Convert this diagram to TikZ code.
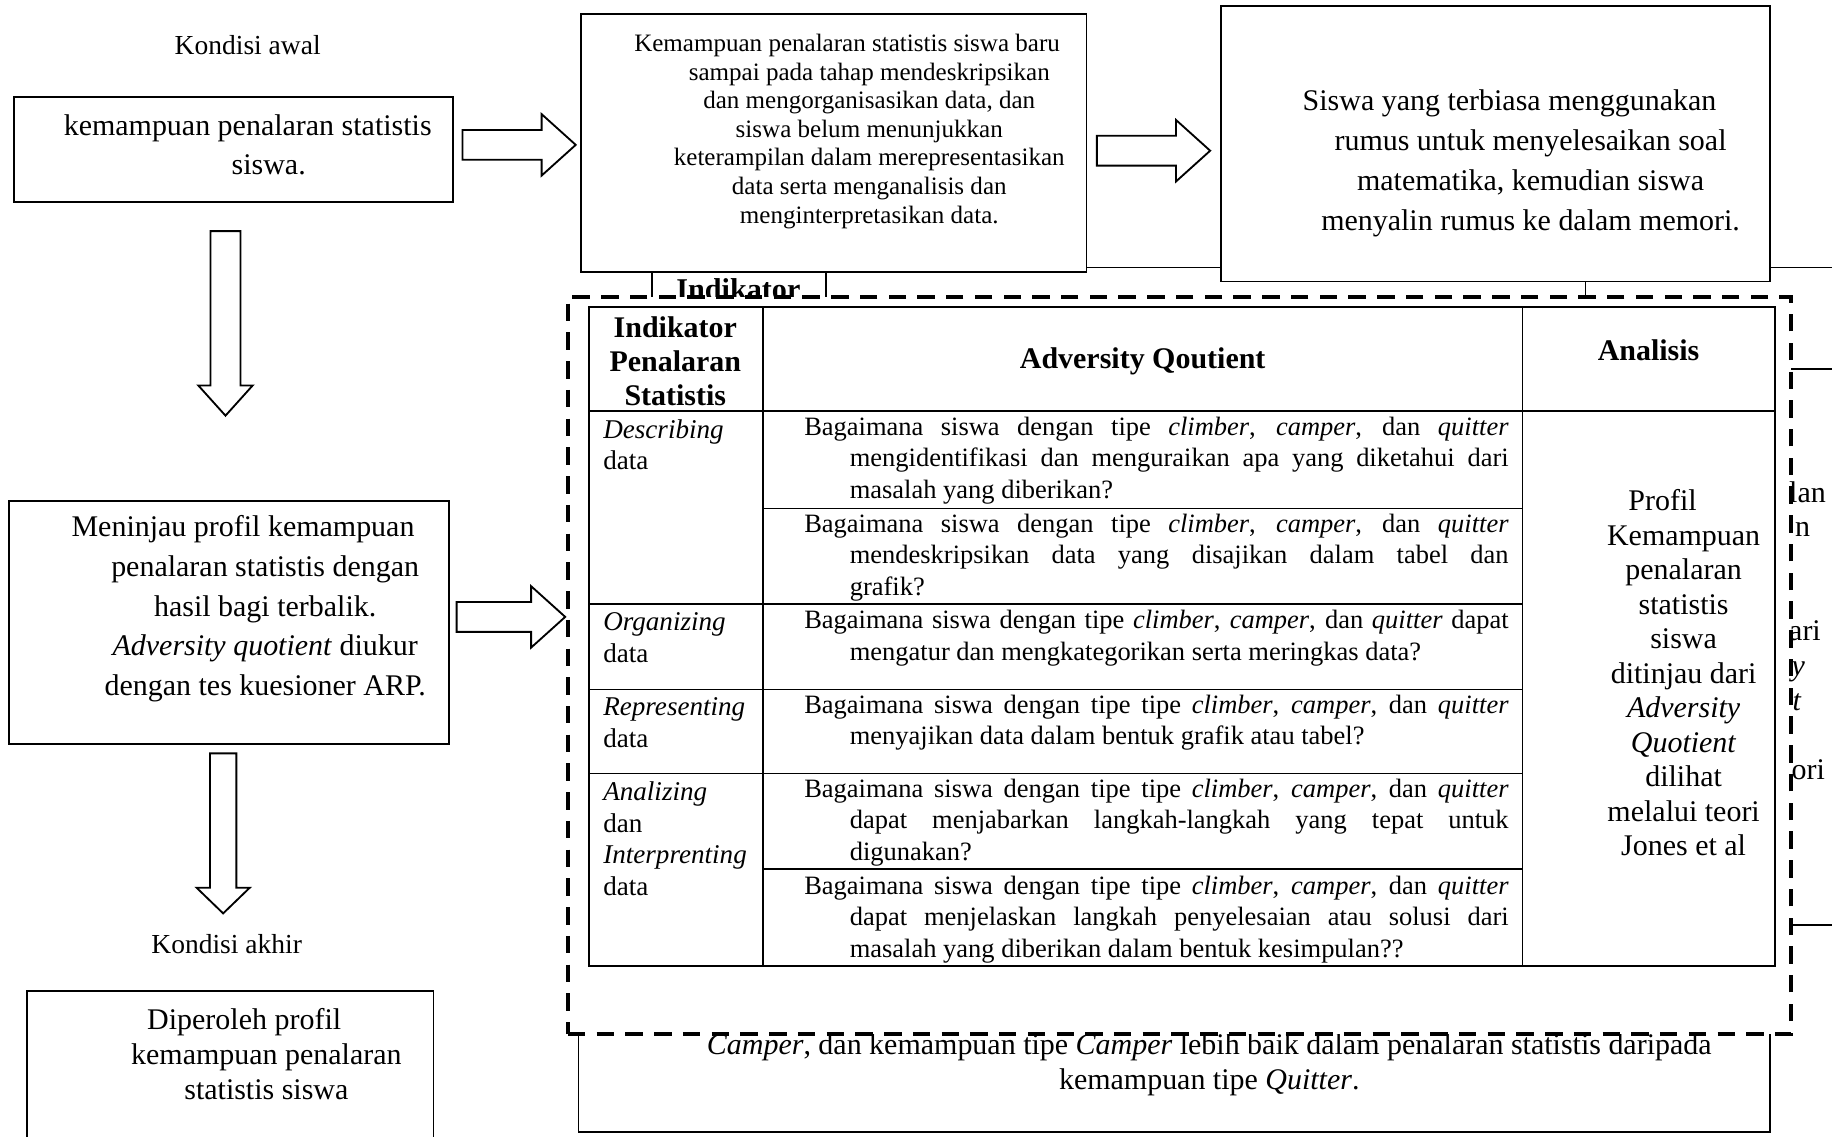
\documentclass[tikz,border=0pt]{standalone}
\usepackage{fontspec}
\setmainfont{Liberation Serif}
\usetikzlibrary{shapes.arrows}
\newcommand\qfont{\fontsize{12.9}{15.4}\selectfont\tolerance=10000\relax}
\newcommand\qhang{\hangindent=0.78cm\hangafter=1\relax}
\tikzset{
  ln/.style    = {line width=0.9pt},
  box/.style   = {draw, line width=0.9pt, inner sep=0pt},
  boxw/.style  = {box, fill=white},
  tx/.style    = {align=center, inner sep=0pt, font=\fontsize{14.6}{19.3}\selectfont},
  lbl/.style   = {inner sep=0pt, font=\fontsize{13.4}{16}\selectfont},
  barr/.style  = {single arrow, draw, line width=0.9pt, anchor=tail, inner xsep=0pt,
                  inner ysep=0.24cm, minimum width=0pt, single arrow head extend=0.27cm,
                  single arrow tip angle=84},
  grp/.style   = {draw, fill=white, line width=2pt, dash pattern=on 8.5pt off 5.5pt,
                  inner sep=0pt},
  tln/.style   = {line width=0.6pt},
  tlnb/.style  = {line width=1.1pt},
  hd/.style    = {align=center, inner sep=0pt, font=\fontsize{14.6}{16.5}\selectfont\bfseries},
  ind/.style   = {anchor=west, align=left, inner sep=0pt, font=\fontsize{13.2}{15.4}\selectfont},
  qs/.style    = {anchor=west, text width=12.06cm, align=justify, inner sep=0pt, font=\qfont},
  frag/.style  = {anchor=base west, inner sep=0pt, font=\fontsize{14.6}{16}\selectfont},
}
\begin{document}
\begin{tikzpicture}[x=0.02cm, y=-0.02cm]
  \useasboundingbox (0,0) rectangle (1568,973);
  \draw[ln] (930,229) -- (1568,229);
  \foreach \y in {316,792} \draw[ln] (1533,\y) -- (1568,\y);

  \node[lbl] (k1) at (212,39) {Kondisi awal};
  \node[lbl] (k2) at (194,808) {Kondisi akhir};

  \node[box, minimum width=7.52cm, minimum height=1.8cm] (b1) at (200,128) {};
  \node[box, minimum width=8.66cm, minimum height=4.42cm] (b2) at (713.5,122.5) {};
  \node[boxw, minimum width=9.4cm, minimum height=4.72cm] (b3) at (1280,123) {};
  \node[box, minimum width=7.52cm, minimum height=4.16cm] (b4) at (196,533) {};
  \node[box, minimum width=6.96cm, minimum height=2.84cm] (b5) at (197,919) {};
  \node[box, minimum width=20.4cm, minimum height=2.18cm] (b6) at (1005,914.5) {};

  \node[tx] (t1) at (230,124) {\hspace*{-0.72cm}kemampuan penalaran statistis\\siswa.};
  \node[tx, font=\fontsize{12.2}{13.9}\selectfont] (t2) at (744,112.5)
    {\hspace*{-0.76cm}Kemampuan penalaran statistis siswa baru\\sampai pada tahap mendeskripsikan\\
     dan mengorganisasikan data, dan\\siswa belum menunjukkan\\keterampilan dalam merepresentasikan\\
     data serta menganalisis dan\\menginterpretasikan data.};
  \node[tx, font=\fontsize{14.6}{19.5}\selectfont] (t3) at (1310,139.5)
    {\hspace*{-0.72cm}Siswa yang terbiasa menggunakan\\rumus untuk menyelesaikan soal\\
     matematika, kemudian siswa\\menyalin rumus ke dalam memori.};
  \node[tx] (t4) at (227,521)
    {\hspace*{-0.76cm}Meninjau profil kemampuan\\penalaran statistis dengan\\hasil bagi terbalik.\\
     \emph{Adversity quotient} diukur\\dengan tes kuesioner ARP.};
  \node[tx, font=\fontsize{14.6}{17.1}\selectfont] (t5) at (228,902)
    {\hspace*{-0.76cm}Diperoleh profil\\kemampuan penalaran\\statistis siswa};
  \node[tx, font=\fontsize{14.6}{17}\selectfont] (t6) at (1035,911)
    {\emph{Camper}, dan kemampuan tipe \emph{Camper} lebih baik dalam penalaran statistis daripada\\
     kemampuan tipe \emph{Quitter}.};

  \draw[ln] (558,233) -- (558,254);
  \draw[ln] (707,233) -- (707,254);
  \draw[ln] (1357,241) -- (1357,254);
  \node[inner sep=0pt, anchor=base, font=\fontsize{14.7}{16}\selectfont\bfseries] (ik) at (632,256) {Indikator};

  \node[grp, minimum width=20.94cm, minimum height=12.62cm] (g) at (1009.5,569.5) {};

  \draw[tlnb] (504,263) rectangle (1519,827);
  \draw[tlnb] (504,352) -- (1519,352);
  \draw[tln] (653,263) -- (653,827);
  \draw[tln] (1303,263) -- (1303,827);
  \foreach \y in {590,662} \draw[tln] (504,\y) -- (1303,\y);
  \draw[tlnb] (504,517) -- (1303,517);
  \draw[tln] (653,435) -- (1303,435);
  \draw[tlnb] (653,744) -- (1303,744);

  \node[hd] (h1) at (578,309) {Indikator\\Penalaran\\Statistis};
  \node[hd] (h2) at (978,309) {Adversity Qoutient};
  \node[hd] (h3) at (1411,300) {Analisis};

  \node[ind] (i1) at (516,380.5) {\emph{Describing}\\data};
  \node[ind] (i2) at (516,546) {\emph{Organizing}\\data};
  \node[ind] (i3) at (516,618.5) {\emph{Representing}\\data};
  \node[ind] (i4) at (516,718) {\emph{Analizing}\\dan\\\emph{Interprenting}\\data};

  \node[qs] (q1) at (688,394) {\qhang Bagaimana siswa dengan tipe \emph{climber}, \emph{camper}, dan \emph{quitter}\linebreak
    mengidentifikasi dan menguraikan apa yang diketahui dari\linebreak masalah yang diberikan?\par};
  \node[qs] (q2) at (688,477) {\qhang Bagaimana siswa dengan tipe \emph{climber}, \emph{camper}, dan \emph{quitter}\linebreak
    mendeskripsikan data yang disajikan dalam tabel dan\linebreak grafik?\par};
  \node[qs] (q3) at (688,546) {\qhang Bagaimana siswa dengan tipe \emph{climber}, \emph{camper}, dan \emph{quitter} dapat\linebreak
    mengatur dan mengkategorikan serta meringkas data?\par};
  \node[qs] (q4) at (688,618.5) {\qhang Bagaimana siswa dengan tipe tipe \emph{climber}, \emph{camper}, dan \emph{quitter}\linebreak
    menyajikan data dalam bentuk grafik atau tabel?\par};
  \node[qs] (q5) at (688,704) {\qhang Bagaimana siswa dengan tipe tipe \emph{climber}, \emph{camper}, dan \emph{quitter}\linebreak
    dapat menjabarkan langkah-langkah yang tepat untuk\linebreak digunakan?\par};
  \node[qs] (q6) at (688,787) {\qhang Bagaimana siswa dengan tipe tipe \emph{climber}, \emph{camper}, dan \emph{quitter}\linebreak
    dapat menjelaskan langkah penyelesaian atau solusi dari\linebreak masalah yang diberikan dalam bentuk kesimpulan??\par};

  \node[tx, font=\fontsize{14.6}{16.8}\selectfont] (an) at (1441,576)
    {\hspace*{-0.72cm}Profil\\Kemampuan\\penalaran\\statistis\\siswa\\ditinjau dari\\
     \emph{Adversity}\\\emph{Quotient}\\dilihat\\melalui teori\\Jones et al};

  \node[barr, minimum height=1.94cm] (a1) at (395,124) {};
  \node[barr, minimum height=1.94cm] (a2) at (938,129) {};
  \node[barr, minimum height=1.86cm] (a3) at (390,528) {};
  \node[barr, rotate=-90, minimum height=3.16cm, single arrow head extend=0.21cm] (d1) at (193,197) {};
  \node[barr, rotate=-90, minimum height=2.74cm, inner ysep=0.21cm,
        single arrow head extend=0.23cm, single arrow tip angle=92] (d2) at (191,644) {};

  \node[frag] (f1) at (1531,430) {lan};
  \node[frag] (f2) at (1536,459.6) {n};
  \node[frag] (f3) at (1531,548.6) {ari};
  \node[frag] (f4) at (1533,578) {\emph{y}};
  \node[frag] (f5) at (1534,607.8) {\emph{t}};
  \node[frag] (f6) at (1533,667) {ori};
\end{tikzpicture}
\end{document}
